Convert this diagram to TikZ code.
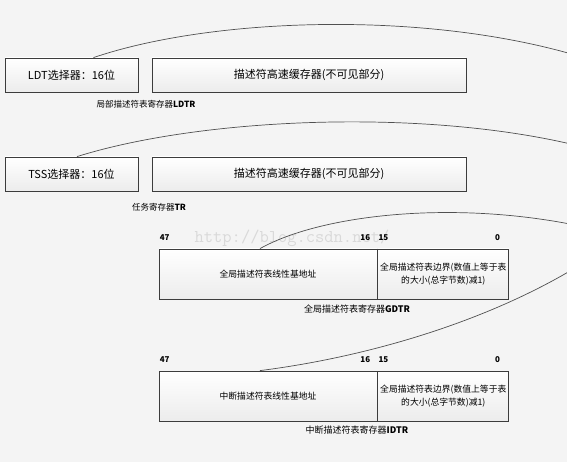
\documentclass[tikz,border=0pt]{standalone}
\usepackage{fontspec}
\setmainfont{Noto Sans CJK SC}
\usepackage{tikz}
\usetikzlibrary{positioning}
\definecolor{Paper}{HTML}{F4F4F4}
\definecolor{Frame}{HTML}{3C3C3C}
\definecolor{BoxBottom}{HTML}{ECECEC}
\definecolor{Mark}{HTML}{D9D9D9}

\begin{document}
\begin{tikzpicture}[
			x=1pt, y=-1pt,
			regbox/.style={draw=Frame, line width=0.8pt, top color=white, bottom color=BoxBottom,
				inner sep=0.5pt, align=center, font=\fontsize{11}{13}\selectfont},
			fieldbox/.style={regbox, minimum height=50pt, font=\fontsize{8.8}{13.5}\selectfont},
			bitlabel/.style={font=\fontsize{8}{9}\selectfont\bfseries, inner sep=0pt},
			regname/.style={font=\fontsize{8.5}{10}\selectfont, inner sep=0pt},
			link/.style={draw=Frame!90, line width=0.7pt}
			]
			
			% paper
			\fill[Paper] (0,0) rectangle (567,462);
			\useasboundingbox (0,0) rectangle (567,462);
			
			% watermark
			\node[font=\fontsize{18}{18}\selectfont\ttfamily, text=Mark, inner sep=0pt]
			(mark) at (292,238) {http://blog.csdn.net/};
			
			% LDTR
			\node[regbox, minimum width=133pt, minimum height=34pt]
			(ldt) at (71.5,75) {LDT选择器：16位};
			\node[regbox, minimum width=314pt, minimum height=34pt]
			(lcache) at (309,75) {描述符高速缓存器(不可见部分)};
			\node[regname] (ldtr) at (146,104) {局部描述符表寄存器\textbf{LDTR}};
			
			% TR
			\node[regbox, minimum width=133pt, minimum height=34pt]
			(tss) at (71.5,174) {TSS选择器：16位};
			\node[regbox, minimum width=314pt, minimum height=34pt]
			(tcache) at (309,174) {描述符高速缓存器(不可见部分)};
			\node[regname] (tr) at (159,207) {任务寄存器\textbf{TR}};
			
			% GDTR
			\node[fieldbox, minimum width=218pt]
			(gbase) at (268,274) {全局描述符表线性基地址};
			\node[fieldbox, minimum width=131pt, right=0pt of gbase]
			(glimit) {全局描述符表边界(数值上等于表\\的大小(总字节数)减1)};
			\node[bitlabel, anchor=west] (g47) at ([xshift=1pt, yshift=11pt]gbase.north west) {47};
			\node[bitlabel, anchor=east] (g16) at ([xshift=-7pt, yshift=11pt]gbase.north east) {16};
			\node[bitlabel, anchor=west] (g15) at ([xshift=1pt, yshift=11pt]glimit.north west) {15};
			\node[bitlabel, anchor=east] (g0) at ([xshift=-9pt, yshift=11pt]glimit.north east) {0};
			\node[regname, font=\fontsize{9}{10}\selectfont] (gdtr) at (357,309) {全局描述符表寄存器\textbf{GDTR}};
			
			% IDTR
			\node[fieldbox, minimum width=218pt]
			(ibase) at (268,396) {中断描述符表线性基地址};
			\node[fieldbox, minimum width=131pt, right=0pt of ibase]
			(ilimit) {全局描述符表边界(数值上等于表\\的大小(总字节数)减1)};
			\node[bitlabel, anchor=west] (i47) at ([xshift=1pt, yshift=11pt]ibase.north west) {47};
			\node[bitlabel, anchor=east] (i16) at ([xshift=-7pt, yshift=11pt]ibase.north east) {16};
			\node[bitlabel, anchor=west] (i15) at ([xshift=1pt, yshift=11pt]ilimit.north west) {15};
			\node[bitlabel, anchor=east] (i0) at ([xshift=-9pt, yshift=11pt]ilimit.north east) {0};
			\node[regname, font=\fontsize{9}{10}\selectfont] (idtr) at (357,430) {中断描述符表寄存器\textbf{IDTR}};
			
			% links running off the right edge
			\coordinate (ldtout) at (575,55);
			\coordinate (tssout) at (575,145);
			\coordinate (gdtout) at (575,225);
			\coordinate (idtout) at (575,268);
			\draw[link] ([xshift=22pt]ldt.north) .. controls (210,18) and (420,10) .. (ldtout);
			\draw[link] ([xshift=5.5pt]tss.north) .. controls (200,118) and (420,108) .. (tssout);
			\draw[link] ([xshift=-8pt]gbase.north) .. controls (320,215) and (450,200) .. (gdtout);
			\draw[link] ([xshift=-8pt]ibase.north) .. controls (360,358) and (480,325) .. (idtout);
			
		\end{tikzpicture}
\end{document}
